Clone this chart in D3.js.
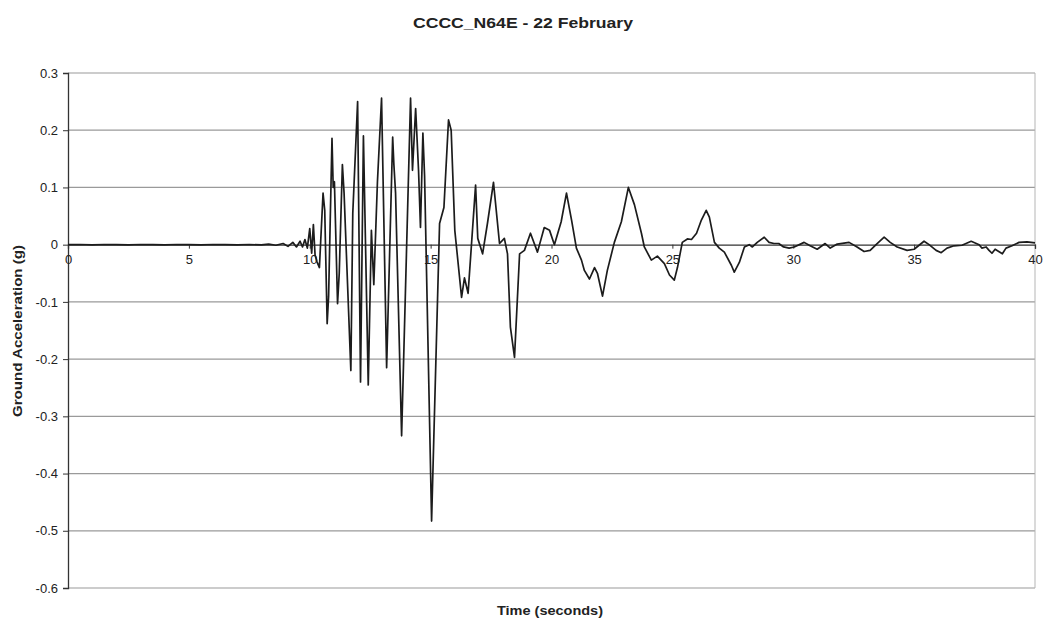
<!DOCTYPE html>
<html><head><meta charset="utf-8">
<script src="https://cdn.jsdelivr.net/npm/d3@7"></script>
<style>body{margin:0;background:#fff;} svg text{font-family:Arial,"Liberation Sans",sans-serif;fill:#222;}</style>
</head><body><svg id="c" width="1043" height="620"></svg>
<script>
const chartTitle = "CCCC_N64E - 22 February";
const xTitle = "Time (seconds)";
const yTitle = "Ground Acceleration (g)";
const xTicks = [0,5,10,15,20,25,30,35,40];
const yTicks = [-0.6,-0.5,-0.4,-0.3,-0.2,-0.1,0,0.1,0.2,0.3];
const yTickLabels = ["-0.6","-0.5","-0.4","-0.3","-0.2","-0.1","0","0.1","0.2","0.3"];

const time = [0,0.5,1,1.5,2,2.5,3,3.5,4,4.5,5,5.5,6,6.5,7,7.5,8,8.3,8.6,8.9,9.1,9.3,9.45,9.6,9.7,9.8,9.9,
  10.0,10.08,10.15,10.22,10.3,10.4,10.55,10.62,10.72,10.78,10.92,10.97,11.02,11.15,11.22,11.35,11.42,11.7,11.78,11.98,12.1,12.22,12.42,12.55,12.65,12.8,12.97,
  13.18,13.43,13.48,13.55,13.8,14.17,14.25,14.38,14.5,14.58,14.68,14.75,15.04,15.37,15.55,15.74,15.85,16.0,16.28,16.4,16.55,16.86,16.95,17.15,17.35,17.6,17.85,
  18.05,18.18,18.3,18.47,18.68,18.88,19.13,19.42,19.7,19.92,20.12,20.4,20.62,20.83,21.03,21.24,21.36,21.57,21.78,21.9,22.11,22.31,22.6,22.89,23.18,23.43,
  23.72,23.84,24.13,24.38,24.67,24.88,25.08,25.21,25.41,25.62,25.79,26.0,26.2,26.4,26.53,26.74,26.94,27.15,27.44,27.56,27.77,27.98,28.18,28.31,28.51,28.8,
  29.0,29.2,29.4,29.6,29.83,30.04,30.45,30.7,30.99,31.32,31.53,31.82,32.31,32.64,32.93,33.18,33.47,33.76,34.01,34.3,34.71,35.0,35.41,35.62,35.91,36.12,
  36.36,36.65,36.98,37.36,37.69,37.8,37.98,38.1,38.22,38.35,38.5,38.65,38.8,39.05,39.34,39.67,40.0];
const accel = [0,0.0003,-0.0003,0.0003,0,-0.0003,0.0003,0,-0.0003,0.0003,0,-0.0003,0.0003,0,-0.0003,0.0003,-0.0005,0.001,-0.001,0.002,-0.003,0.004,-0.004,0.006,-0.004,0.009,-0.006,
  0.028,-0.015,0.035,-0.018,-0.03,-0.04,0.09,0.06,-0.138,-0.09,0.186,0.1,0.11,-0.103,-0.05,0.14,0.09,-0.22,0.055,0.25,-0.24,0.19,-0.245,0.025,-0.07,0.11,0.256,
  -0.215,0.188,0.14,0.09,-0.334,0.256,0.13,0.238,0.13,0.03,0.195,0.12,-0.483,0.037,0.065,0.218,0.2,0.025,-0.092,-0.058,-0.085,0.104,0.011,-0.016,0.037,0.109,0.002,
  0.011,-0.016,-0.144,-0.197,-0.016,-0.01,0.02,-0.013,0.03,0.025,0.0,0.04,0.09,0.043,-0.006,-0.027,-0.045,-0.06,-0.04,-0.05,-0.09,-0.045,0.004,0.04,0.1,0.07,
  0.02,-0.004,-0.027,-0.02,-0.033,-0.053,-0.062,-0.04,0.004,0.01,0.009,0.02,0.043,0.06,0.048,0.004,-0.006,-0.013,-0.036,-0.048,-0.031,-0.004,0.0,-0.004,0.004,0.013,
  0.004,0.002,0.002,-0.004,-0.006,-0.004,0.004,-0.002,-0.008,0.002,-0.006,0.001,0.004,-0.004,-0.012,-0.01,0.002,0.013,0.004,-0.004,-0.01,-0.008,0.006,0.0,-0.01,-0.014,
  -0.006,-0.002,-0.001,0.006,0.0,-0.006,-0.004,-0.01,-0.015,-0.008,-0.012,-0.016,-0.006,-0.002,0.004,0.005,0.003];

const W = 1043, H = 620;
const m = {left: 68, right: 8, top: 73, bottom: 32};
const svg = d3.select("#c");
const x = d3.scaleLinear().domain([0, 40]).range([m.left, W - m.right]);
const y = d3.scaleLinear().domain([-0.6, 0.3]).range([H - m.bottom, m.top]);

// gridlines
svg.append("g").selectAll("line").data(yTicks.filter(d => d !== 0)).join("line")
  .attr("x1", x(0)).attr("x2", x(40))
  .attr("y1", d => y(d)).attr("y2", d => y(d))
  .attr("stroke", "#9a9a9a").attr("stroke-width", 1.2);

// right border
svg.append("line").attr("x1", x(40)).attr("x2", x(40)).attr("y1", y(0.3)).attr("y2", y(-0.6))
  .attr("stroke", "#b5b5b5").attr("stroke-width", 1);

// y axis
const yAxis = d3.axisLeft(y).tickValues(yTicks).tickSize(5).tickPadding(5)
  .tickFormat((d, i) => yTickLabels[i]);
const gy = svg.append("g").attr("transform", `translate(${m.left},0)`).call(yAxis);
gy.select(".domain").attr("stroke", "#333").attr("stroke-width", 1.3);
gy.selectAll(".tick line").attr("stroke", "#333");
gy.selectAll(".tick text").attr("font-size", 13).attr("fill", "#333").style("font-family", "Arial, 'Liberation Sans', sans-serif");

// x axis at zero
const xAxis = d3.axisBottom(x).tickValues(xTicks).tickSize(4).tickPadding(6).tickFormat(d3.format("d"));
const gx = svg.append("g").attr("transform", `translate(0,${y(0)})`).call(xAxis);
gx.select(".domain").attr("stroke", "#333").attr("stroke-width", 1.3);
gx.selectAll(".tick line").attr("stroke", "#333");
gx.selectAll(".tick text").attr("font-size", 13).attr("fill", "#333").style("font-family", "Arial, 'Liberation Sans', sans-serif");

// series line
const pts = time.map((t, i) => [t, accel[i]]);
svg.append("path").datum(pts)
  .attr("fill", "none").attr("stroke", "#1c1c1c").attr("stroke-width", 1.7).attr("stroke-linejoin", "round")
  .attr("d", d3.line().x(d => x(d[0])).y(d => y(d[1])));

// titles
svg.append("text").attr("x", 523).attr("y", 28).attr("text-anchor", "middle")
  .attr("font-size", 15).attr("font-weight", "bold").attr("textLength", 220).attr("lengthAdjust", "spacingAndGlyphs")
  .text(chartTitle);
svg.append("text").attr("x", 550).attr("y", 615).attr("text-anchor", "middle")
  .attr("font-size", 12.5).attr("font-weight", "bold").attr("textLength", 106).attr("lengthAdjust", "spacingAndGlyphs")
  .text(xTitle);
svg.append("text").attr("transform", `translate(22,331) rotate(-90)`).attr("text-anchor", "middle")
  .attr("font-size", 13).attr("font-weight", "bold").attr("textLength", 172).attr("lengthAdjust", "spacingAndGlyphs")
  .text(yTitle);
</script></body></html>
